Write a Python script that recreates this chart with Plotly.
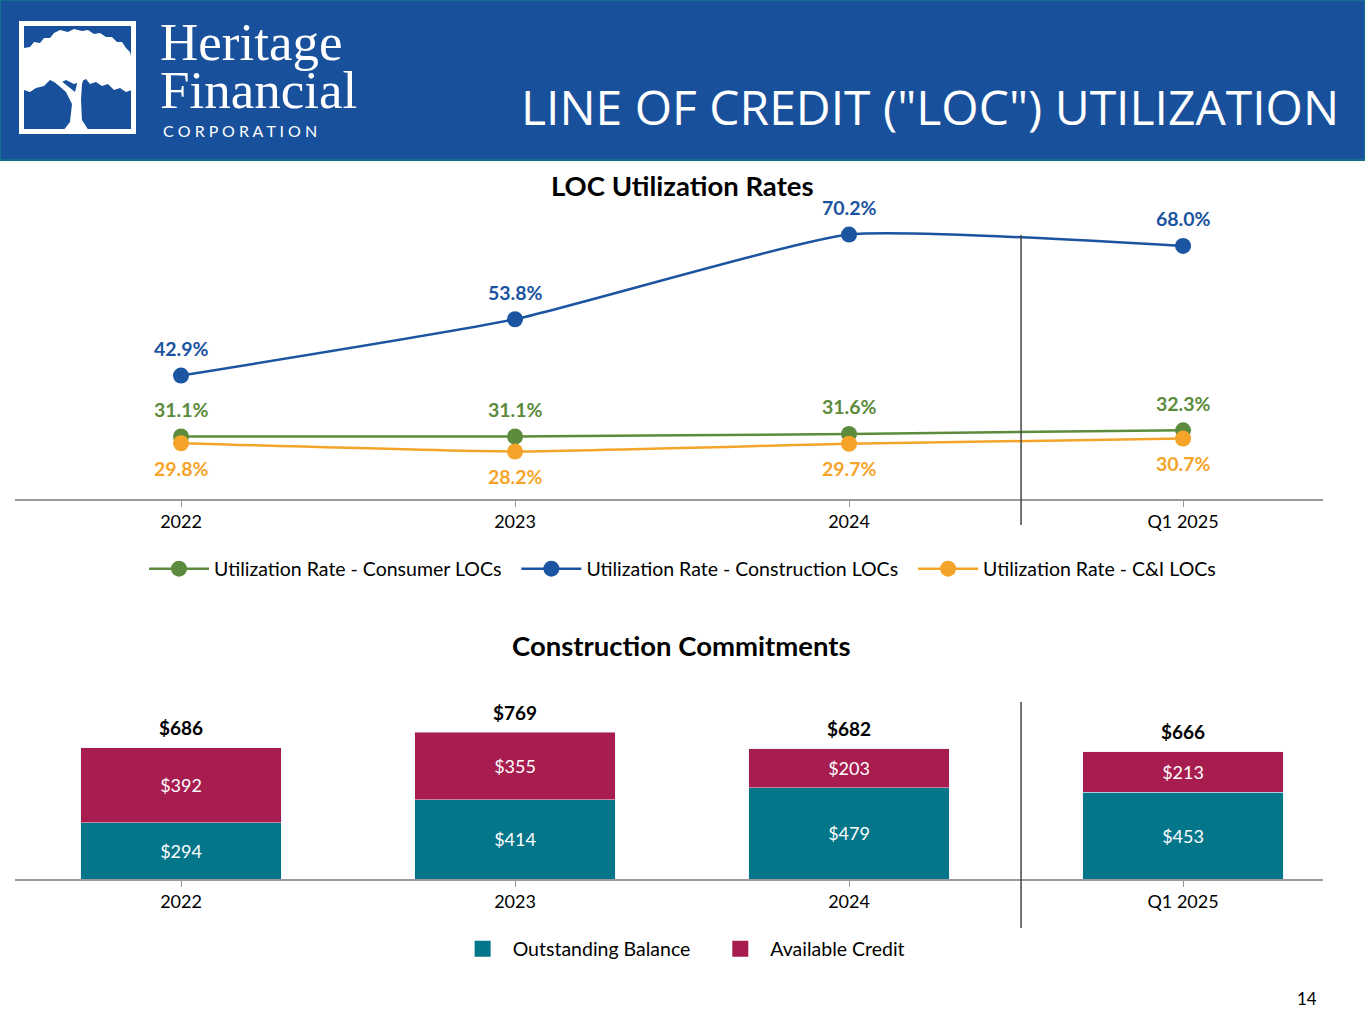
import plotly.graph_objects as go

W, H = 1365, 1024

periods = ["2022", "2023", "2024", "Q1 2025"]
consumer_rate = [31.1, 31.1, 31.6, 32.3]
construction_rate = [42.9, 53.8, 70.2, 68.0]
ci_rate = [29.8, 28.2, 29.7, 30.7]

outstanding = [294, 414, 479, 453]
available = [392, 355, 203, 213]
totals = [686, 769, 682, 666]

GREEN = "#5c8b3d"
BLUE = "#1b54a0"
ORANGE = "#f5a42a"
TEAL = "#04768a"
MAROON = "#a81d50"
HEADER = "#18509c"
FONT = "Lato"
NB = "\u00a0"


def px(x, y):
    return x / W, 1 - y / H


fig = go.Figure()

# line chart
for name, vals, col in [
    ("Utilization Rate - Consumer LOCs" + NB * 2, consumer_rate, GREEN),
    ("Utilization Rate - Construction LOCs" + NB * 2, construction_rate, BLUE),
    ("Utilization Rate - C&I LOCs", ci_rate, ORANGE),
]:
    fig.add_trace(go.Scatter(
        x=periods, y=vals, name=name, mode="lines+markers",
        line=dict(color=col, width=2.5, shape="spline", smoothing=0.45),
        marker=dict(color=col, size=16),
        xaxis="x", yaxis="y", legend="legend", cliponaxis=False,
    ))

# bars
fig.add_trace(go.Bar(
    x=periods, y=outstanding, marker_color=TEAL, width=0.6,
    text=["$" + str(v) for v in outstanding], textposition="inside",
    insidetextanchor="middle", textfont=dict(color="white", size=18, family=FONT),
    xaxis="x2", yaxis="y2", showlegend=False,
))
fig.add_trace(go.Bar(
    x=periods, y=available, marker_color=MAROON, width=0.6,
    text=["$" + str(v) for v in available], textposition="inside",
    insidetextanchor="middle", textfont=dict(color="white", size=18, family=FONT),
    xaxis="x2", yaxis="y2", showlegend=False,
))
# legend swatches for the bars
for name, col in [("Outstanding Balance" + NB * 3, TEAL), ("Available Credit", MAROON)]:
    fig.add_trace(go.Scatter(
        x=[None], y=[None], mode="markers", name=name,
        marker=dict(symbol="square", size=19, color=col),
        xaxis="x2", yaxis="y2", legend="legend2",
    ))

annotations = []
for i, v in enumerate(construction_rate):
    annotations.append(dict(x=i, y=v, xref="x", yref="y", text="<b>%.1f%%</b>" % v,
                            showarrow=False, yshift=27,
                            font=dict(color=BLUE, size=19.5, family=FONT)))
for i, v in enumerate(consumer_rate):
    annotations.append(dict(x=i, y=v, xref="x", yref="y", text="<b>%.1f%%</b>" % v,
                            showarrow=False, yshift=27,
                            font=dict(color=GREEN, size=19.5, family=FONT)))
for i, v in enumerate(ci_rate):
    annotations.append(dict(x=i, y=v, xref="x", yref="y", text="<b>%.1f%%</b>" % v,
                            showarrow=False, yshift=-25,
                            font=dict(color=ORANGE, size=19.5, family=FONT)))
for i, v in enumerate(totals):
    annotations.append(dict(x=i, y=v, xref="x2", yref="y2", text="<b>$%d</b>" % v,
                            showarrow=False, yshift=20,
                            font=dict(color="black", size=19, family=FONT)))


def txt(x, y, s, size, color="black", family=FONT, anchor="center", weight=None):
    xx, yy = px(x, y)
    f = dict(size=size, color=color, family=family)
    if weight:
        f["weight"] = weight
    annotations.append(dict(x=xx, y=yy, xref="paper", yref="paper", text=s,
                            showarrow=False, xanchor=anchor, yanchor="middle", font=f))


txt(1341, 106, 'LINE OF CREDIT ("LOC") UTILIZATION', 48, "white", "Open Sans", "right")
txt(158, 42, "Heritage", 53, "white", "Liberation Serif", "left")
txt(158, 90, "Financial", 53, "white", "Liberation Serif", "left")
txt(161, 130, "C O R P O R A T I O N", 16, "white", "Lato", "left")
txt(682, 185, "<b>LOC Utilization Rates</b>", 27.5)
txt(681, 645, "<b>Construction Commitments</b>", 27.5)
txt(1307, 998, "14", 17)

shapes = []
x0, y0 = px(0, 0)
x1, y1 = px(W, 160)
shapes.append(dict(type="rect", xref="paper", yref="paper", x0=x0, y0=y0, x1=x1, y1=y1,
                   fillcolor=HEADER, line=dict(color="#0f6f8c", width=2), layer="below"))


def poly(points):
    return "M " + " L ".join("%f,%f" % px(a, b) for a, b in points) + " Z"


# logo: framed tree
bx0, by0 = px(21.5, 23.5)
bx1, by1 = px(133.5, 131.5)
shapes.append(dict(type="rect", xref="paper", yref="paper", x0=bx0, y0=by0, x1=bx1, y1=by1,
                   line=dict(color="white", width=5)))
canopy = [(24, 48), (30, 47), (34, 42), (40, 43), (44, 38), (50, 38), (54, 33), (60, 30),
          (68, 32), (74, 29), (82, 31), (88, 30), (94, 34), (100, 33), (106, 37), (112, 37),
          (117, 42), (122, 42), (126, 48), (130, 52), (132, 60), (132, 90), (126, 92),
          (120, 88), (114, 90), (108, 84), (102, 86), (96, 82), (90, 84), (86, 79), (80, 82),
          (74, 84), (66, 80), (58, 84), (50, 80), (44, 86), (36, 88), (30, 92), (24, 90)]
trunk = [(63, 131), (70, 122), (72, 104), (66, 92), (51, 79), (55, 76), (70, 88), (75, 92),
         (78, 80), (82, 71), (86, 72), (82, 84), (81, 100), (82, 120), (89, 131)]
for pts in (canopy, trunk):
    shapes.append(dict(type="path", xref="paper", yref="paper", path=poly(pts),
                       fillcolor="white", line=dict(width=0)))

# dividers between annual and quarterly data
shapes.append(dict(type="line", xref="x", yref="paper", x0=2.515, x1=2.515,
                   y0=1 - 525 / H, y1=1 - 235 / H, line=dict(color="#444444", width=1.5)))
shapes.append(dict(type="line", xref="x2", yref="paper", x0=2.515, x1=2.515,
                   y0=1 - 928 / H, y1=1 - 702 / H, line=dict(color="#444444", width=1.5)))

xdom = [15 / W, 1323 / W]
xcommon = dict(type="category", domain=xdom, range=[-0.497, 3.419], showline=True,
               linecolor="#9a9a9a", linewidth=1.5, ticks="outside", ticklen=6,
               tickcolor="#9a9a9a", tickfont=dict(size=18, color="black", family=FONT),
               showgrid=False, zeroline=False, fixedrange=True)

fig.update_layout(
    width=W, height=H, margin=dict(l=0, r=0, t=0, b=0),
    paper_bgcolor="white", plot_bgcolor="white",
    font=dict(family=FONT),
    barmode="stack",
    xaxis=dict(xcommon, anchor="y"),
    yaxis=dict(domain=[1 - 499 / H, 1 - 225 / H], range=[19.0, 72.05], visible=False,
               anchor="x", fixedrange=True),
    xaxis2=dict(xcommon, anchor="y2"),
    yaxis2=dict(domain=[1 - 879 / H, 1 - 690 / H], range=[0, 989.5], visible=False,
                anchor="x2", fixedrange=True),
    legend=dict(orientation="h", x=0.5, xanchor="center", y=1 - 569 / H, yanchor="middle",
                font=dict(size=19.5, color="black", family=FONT), itemwidth=60,
                traceorder="normal", bgcolor="rgba(0,0,0,0)"),
    legend2=dict(orientation="h", x=0.499, xanchor="center", y=1 - 949 / H, yanchor="middle",
                 font=dict(size=19.5, color="black", family=FONT), itemwidth=50,
                 traceorder="normal", bgcolor="rgba(0,0,0,0)"),
    annotations=annotations,
    shapes=shapes,
    showlegend=True,
)

fig.write_html("out.html", config={"displayModeBar": False},
               post_script="document.body.style.margin='0';")
